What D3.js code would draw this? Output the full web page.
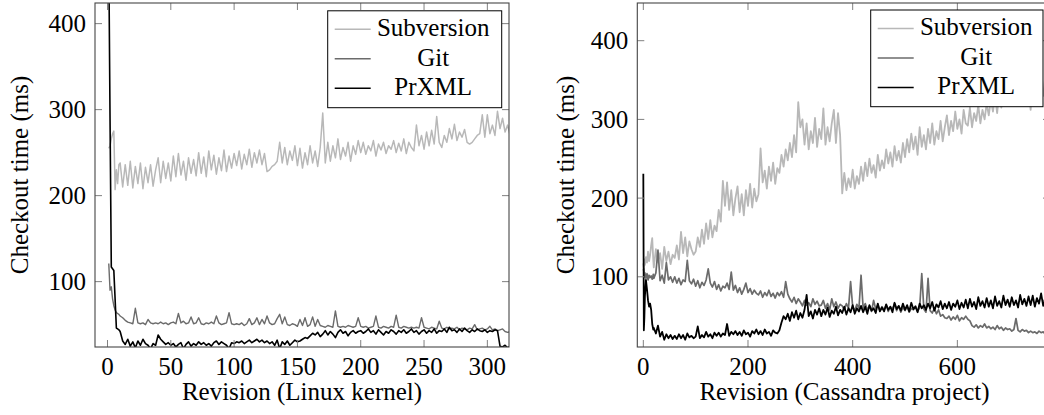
<!DOCTYPE html>
<html><head><meta charset="utf-8">
<script src="https://cdn.jsdelivr.net/npm/d3@7"></script>
<style>body{margin:0;background:#fff}</style>
</head><body>
<svg id="chart" width="1044" height="415"></svg>
<script>
// ---------- data ----------
const seriesNames = ["Subversion", "Git", "PrXML"];
const linuxXTicks = [0, 50, 100, 150, 200, 250, 300];
const cassXTicks = [0, 200, 400, 600];
const yTicks = [100, 200, 300, 400];

const linuxRevs = [1, 2, 3, 4, 5, 6, 7, 8, 9].concat(d3.range(10, 319, 2));
const linuxSvn = [255,258,266,272,275,207,230,214,236,
 238,210,236,212,240,209,234,214,238,208,233,215,236,211,230,
 244,215,240,220,238,217,246,222,249,224,240,218,244,226,242,223,
 250,226,245,222,252,230,247,225,244,229,253,228,246,232,249,
 235,252,231,248,236,254,233,250,238,253,236,249,
 228,230,234,236,240,
 262,238,256,236,252,241,258,235,
 255,232,250,236,258,238,252,234,256,
 296,
 238,262,240,258,244,266,242,256,246,262,240,258,248,264,
 250,262,248,258,252,264,246,260,253,262,249,258,254,264,250,261,252,266,249,262,256,
 252,282,258,270,254,274,258,276,260,292,262,
 256,270,262,278,266,283,264,274,268,277,
 262,260,262,266,270,272,
 294,268,294,272,282,270,298,278,290,274,282,270];
const linuxGit = [121,90,94,80,72,67,64,63,62,
 60,58,55,53,52,51,69,52,51,52,50,56,52,51,52,
 51,53,51,52,50,52,53,51,63,52,54,51,52,59,51,52,
 58,51,50,52,51,53,51,60,52,50,51,52,64,51,50,
 51,50,52,49,51,57,50,52,58,50,56,51,
 60,52,50,51,57,
 62,51,59,50,49,51,50,48,
 56,49,58,48,50,59,48,56,49,
 48,
 47,49,48,47,66,48,47,48,47,49,48,47,48,58,
 48,47,48,46,47,48,60,47,46,48,47,46,48,47,61,47,46,48,47,46,47,
 46,47,46,58,47,46,45,47,46,45,54,
 46,45,47,45,46,45,47,44,46,45,
 44,46,45,50,44,45,
 46,44,45,48,44,45,43,44,45,42,41,42];
const linuxPrxml = [480,290,117,115,113,80,46,45,44,
 42,31,27,33,25,30,23,31,26,33,28,26,22,28,26,
 38,33,30,27,29,26,28,24,27,29,22,27,30,25,28,26,
 30,27,29,26,28,25,29,31,27,30,28,26,22,29,28,
 30,29,31,28,30,32,29,31,33,30,32,29,
 31,28,30,26,32,
 22,30,27,31,26,29,32,30,
 31,33,35,34,37,40,38,41,36,
 39,
 43,38,42,39,35,41,44,40,42,37,41,43,40,42,
 43,40,42,45,41,43,39,44,41,38,42,40,44,42,39,43,41,44,40,42,45,
 41,43,39,42,44,40,43,41,45,40,43,
 42,45,41,47,43,44,41,45,42,46,
 43,41,44,42,45,43,
 42,44,41,43,42,44,43,25,24,26,23,25];

const cassRevs = [0, 1, 2, 3, 5, 7, 9, 11, 13, 15, 17, 19].concat(d3.range(20, 777, 4));
const cassSvn = [117,112,122,115,125,118,132,120,128,140,149,122,
 112,135,118,130,110,138,120,132,116,128,
 124,140,122,157,130,150,126,145,135,128,
 132,150,138,160,142,168,148,172,150,165,
 158,185,170,222,190,220,185,210,178,200,
 215,182,205,178,210,190,218,188,212,196,
 205,263,220,235,212,240,222,245,218,238,
 232,255,240,262,248,270,252,280,258,322,
 290,300,268,295,262,285,270,302,265,288,
 275,314,268,290,272,295,312,270,308,280,
 206,232,210,225,214,236,212,228,218,240,
 222,245,228,250,232,242,226,255,235,248,
 238,262,244,258,240,266,248,260,245,270,
 252,275,258,282,262,278,255,290,265,280,
 262,288,270,295,268,285,275,298,272,290,
 305,280,298,285,310,288,300,282,312,295,
 292,315,290,308,298,318,295,312,300,320,
 305,325,310,330,308,335,315,328,318,340,
 320,342,325,338,322,345,330,348,326,340,
 312,345,325,350,318,342,330,355,322,348];
const cassGit = [108,110,100,105,98,104,96,102,99,101,97,103,
 98,105,134,95,102,92,118,96,100,93,
 100,92,98,90,96,94,121,95,91,97,
 88,95,86,93,89,96,110,92,87,94,
 84,90,82,88,86,92,84,106,83,89,
 80,86,78,84,92,80,85,78,83,79,
 77,82,74,80,76,83,75,79,73,80,
 76,81,74,94,78,72,68,74,66,72,
 68,63,70,64,67,62,72,65,69,63,
 64,70,60,66,58,72,62,68,60,65,
 63,58,66,60,94,62,57,65,60,102,
 60,66,58,63,56,70,59,64,57,62,
 58,64,56,62,59,66,57,63,55,61,
 57,62,55,60,58,63,56,61,104,59,
 55,98,57,54,60,53,58,50,52,48,
 47,50,45,49,46,51,44,48,46,50,
 46,44,38,36,39,35,38,36,40,35,
 37,34,36,33,38,34,36,32,35,33,
 34,31,33,47,32,30,33,31,32,29,
 31,29,30,28,31,29,30,27,29,28];
const cassPrxml = [231,32,48,75,96,84,70,62,66,58,40,33,
 35,28,38,24,30,20,27,22,26,21,
 25,21,27,22,26,20,28,23,25,22,
 24,37,22,26,23,30,24,27,22,29,
 25,29,24,28,26,40,25,30,27,31,
 26,30,25,32,27,29,24,31,28,33,
 27,31,26,33,28,30,25,32,29,28,
 32,42,50,46,53,44,55,48,57,46,
 54,48,58,77,50,56,47,58,52,60,
 50,58,52,61,49,57,53,62,51,58,
 54,62,52,60,55,64,53,60,56,63,
 55,62,53,64,57,60,54,66,56,61,
 56,65,58,62,55,67,59,63,57,66,
 58,64,56,67,59,62,55,66,60,64,
 58,66,60,68,57,65,61,69,59,66,
 60,68,58,66,62,70,59,67,61,71,
 60,72,62,68,59,74,63,69,61,73,
 62,70,60,75,63,69,61,76,64,71,
 62,74,64,70,61,77,65,72,63,75,
 64,76,62,73,66,79,63,74,65,78];

// ---------- drawing ----------
const colors = ["#b8b8b8", "#6b6b6b", "#000000"];
const FS = 25;
const svg = d3.select("#chart");
const textLayer = [];   // texts are added to the svg root after all shapes

function addText(spec) { textLayer.push(spec); }

function panel(o) {
  const x = d3.scaleLinear().domain(o.xDomain).range([o.left, o.right]);
  const y = d3.scaleLinear().domain(o.yDomain).range([o.bottom, o.top]);
  const g = svg.append("g");
  const clipId = "clip" + o.id;
  svg.append("clipPath").attr("id", clipId).append("rect")
    .attr("x", o.left).attr("y", o.top)
    .attr("width", o.right - o.left).attr("height", o.bottom - o.top);

  const lines = g.append("g").attr("clip-path", `url(#${clipId})`);
  o.series.forEach((vals, k) => {
    const line = d3.line().x((d, i) => x(o.revs[i])).y(d => y(d));
    lines.append("path").datum(vals)
      .attr("fill", "none").attr("stroke", colors[k])
      .attr("stroke-width", o.widths[k]).attr("stroke-linejoin", "round")
      .attr("d", line);
  });

  const T = 7;
  const tk = g.append("g").attr("stroke", "#808080").attr("stroke-width", 1);
  o.xTicks.forEach(t => {
    const px = x(t);
    tk.append("line").attr("x1", px).attr("x2", px).attr("y1", o.bottom).attr("y2", o.bottom - T);
    tk.append("line").attr("x1", px).attr("x2", px).attr("y1", o.top).attr("y2", o.top + T);
  });
  yTicks.forEach(t => {
    const py = y(t);
    tk.append("line").attr("x1", o.left).attr("x2", o.left + T).attr("y1", py).attr("y2", py);
    tk.append("line").attr("x1", o.right).attr("x2", o.right - T).attr("y1", py).attr("y2", py);
  });

  g.append("rect").attr("x", o.left).attr("y", o.top)
    .attr("width", o.right - o.left).attr("height", o.bottom - o.top)
    .attr("fill", "none").attr("stroke", "#454545").attr("stroke-width", 1.1);

  o.xTicks.forEach(t => addText({x: x(t), y: 375, anchor: "middle", text: String(t)}));
  yTicks.forEach(t => addText({x: o.left - o.yLabelGap, y: y(t) + 8.5, anchor: "end", text: String(t)}));
  addText({x: o.xTitleX, y: 400, anchor: "middle", text: o.xTitle});
  addText({x: 0, y: 0, anchor: "middle", text: "Checkout time (ms)",
           transform: `translate(${o.yTitleX},${(o.top + o.bottom) / 2}) rotate(-90)`});

  const L = o.legend;
  g.append("rect").attr("x", L.x).attr("y", L.y).attr("width", L.w).attr("height", L.h)
    .attr("fill", "#fff").attr("stroke", "#000").attr("stroke-width", 1);
  seriesNames.forEach((name, k) => {
    const ly = L.y + 18.5 + k * 29.5;
    g.append("line").attr("x1", L.x + 7).attr("x2", L.x + 43).attr("y1", ly).attr("y2", ly)
      .attr("stroke", colors[k]).attr("stroke-width", 1.5);
    addText({x: L.x + 105.5, y: ly + 6.7, anchor: "middle", text: name});
  });
}

panel({
  id: "L", left: 95, right: 509, top: 3, bottom: 347,
  xDomain: [-9.87, 317.1], yDomain: [24, 424],
  xTicks: linuxXTicks, revs: linuxRevs, widths: [1.5, 1.4, 1.6],
  series: [linuxSvn, linuxGit, linuxPrxml],
  yLabelGap: 9, xTitle: "Revision (Linux kernel)", xTitleX: 302, yTitleX: 28,
  legend: {x: 327.7, y: 10.8, w: 174, h: 96.9}
});
panel({
  id: "R", left: 637.3, right: 1050, top: 3, bottom: 347,
  xDomain: [-11.5, 777], yDomain: [10.8, 447.9],
  xTicks: cassXTicks, revs: cassRevs, widths: [1.8, 1.7, 1.8],
  series: [cassSvn, cassGit, cassPrxml],
  yLabelGap: 9, xTitle: "Revision (Cassandra project)", xTitleX: 844.5, yTitleX: 574,
  legend: {x: 870.7, y: 10, w: 172.3, h: 96.7}
});

textLayer.forEach(s => {
  const t = svg.append("text")
    .attr("x", s.x).attr("y", s.y)
    .attr("font-size", 25)
    .attr("font-family", "Liberation Serif")
    .attr("text-anchor", s.anchor)
    .text(s.text);
  if (s.transform) t.attr("transform", s.transform);
});
</script>
</body></html>
